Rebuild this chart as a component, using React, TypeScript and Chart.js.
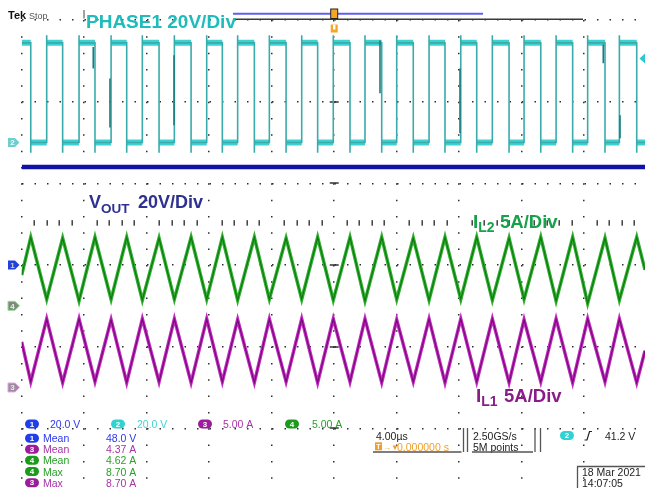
import React, { useEffect, useRef } from "react";
import { Chart, registerables } from "chart.js";

Chart.register(...registerables);

// ---------- screen / scale setup (x in microseconds, y in screen divisions) ----------
const X_MIN_US = -20;
const X_MAX_US = 19.89;
const X_GRID_US = [-20, -16, -12, -8, -4, 0, 4, 8, 12, 16];
const Y_MIN_DIV = -1.535;
const Y_MAX_DIV = 10;
const Y_GRID_DIV = [0, 2, 4, 6, 8, 10];

// channel ground offsets (div) and scale (units / div)
const CH1_OFFSET_DIV = 4; const CH1_PER_DIV = 20; // VOUT
const CH2_OFFSET_DIV = 7; const CH2_PER_DIV = 20; // PHASE1
const CH3_OFFSET_DIV = 1; const CH3_PER_DIV = 5;  // IL1
const CH4_OFFSET_DIV = 3; const CH4_PER_DIV = 5;  // IL2
const TRIGGER_LEVEL_V = 41.2;

// ---------- waveform data ----------
const PHASE_FALL_US = [-19.42, -17.38, -15.31, -13.28, -11.21, -9.16, -7.16, -5.11, -3.08, -1.06, 1.01, 3.04, 5.06, 7.09, 9.12, 11.19, 13.22, 15.26, 17.33, 19.36];
const PHASE_RISE_US = [-18.40, -16.33, -14.28, -12.28, -10.23, -8.16, -6.18, -4.15, -2.08, -0.06, 1.97, 4.00, 6.07, 8.10, 10.12, 12.15, 14.20, 16.22, 18.25];
const PHASE_HIGH_V = 48.8;
const PHASE_LOW_V = 0;
const PHASE_OVERSHOOT_V = 52.5;
const PHASE_UNDERSHOOT_V = -5;

const PHASE_GLITCH_T_US = [-15.42, -14.35, -10.25, 2.93, 8.05, 17.22, 18.29];
const PHASE_GLITCH_TOP_V = [46.8, 31.4, 42.7, 50.0, 36.3, 48.0, 13.3];
const PHASE_GLITCH_BOTTOM_V = [36.3, 7.4, 8.4, 24.1, 4.5, 38.8, 2.1];

const VOUT_T_US = [-20, 19.89];
const VOUT_V = [48.0, 48.0];

const RIPPLE_T_US = [-20, -19.42, -18.40, -17.38, -16.33, -15.31, -14.28, -13.28, -12.28, -11.21, -10.23, -9.16, -8.16, -7.16, -6.18, -5.11, -4.15, -3.08, -2.08, -1.06, -0.06, 1.01, 1.97, 3.04, 4.00, 5.06, 6.07, 7.09, 8.10, 9.12, 10.12, 11.19, 12.15, 13.22, 14.20, 15.26, 16.22, 17.33, 18.25, 19.36, 19.89];
const IL2_A = [3.75, 8.4, 0.8, 8.3, 0.6, 8.4, 0.8, 8.4, 0.7, 8.3, 0.8, 8.4, 0.8, 8.4, 0.7, 8.4, 0.8, 8.3, 0.8, 8.4, 0.7, 8.4, 0.6, 8.4, 0.8, 8.3, 0.7, 8.4, 0.8, 8.4, 0.7, 8.3, 0.8, 8.4, 0.6, 8.4, 0.3, 8.3, 0.7, 8.4, 4.4];
const IL1_A = [5.6, 0.7, 8.4, 0.6, 8.4, 0.7, 8.3, 0.6, 8.4, 0.7, 8.4, 0.6, 8.4, 0.7, 8.3, 0.6, 8.4, 0.7, 8.4, 0.6, 8.4, 0.7, 8.4, 0.6, 8.3, 0.7, 8.4, 0.6, 8.4, 0.7, 8.4, 0.6, 8.3, 0.7, 8.4, 0.6, 8.4, 0.7, 8.4, 0.6, 4.5];

// ---------- readout texts ----------
const CH_SCALE_TEXT = ["20.0 V", "20.0 V", "5.00 A", "5.00 A"];
const MEAS_CH = [1, 3, 4, 4, 3];
const MEAS_NAME = ["Mean", "Mean", "Mean", "Max", "Max"];
const MEAS_VALUE = ["48.0 V", "4.37 A", "4.62 A", "8.70 A", "8.70 A"];
const TIMEBASE_TEXT = "4.00µs";
const TRIG_POS_TEXT = "0.000000 s";
const SAMPLE_RATE_TEXT = "2.50GS/s";
const RECORD_TEXT = "5M points";
const TRIG_LEVEL_TEXT = "41.2 V";
const DATE_TEXT = "18 Mar 2021";
const TIME_TEXT = "14:07:05";

const BADGE_FILL: Record<number, string> = { 1: "#1f3fe8", 2: "#33d2d2", 3: "#9c1c9c", 4: "#1c9a1c" };
const TEXT_FILL: Record<number, string> = { 1: "#2b36f0", 2: "#40d4d4", 3: "#a832a8", 4: "#28a028" };

const FONT = "'Liberation Sans', Arial, sans-serif";

const toDiv = (v: number, off: number, per: number) => off + v / per;

function buildPhase() {
  const edges: { x: number; y: number | null }[] = [];
  const band: { x: number; y: number | null }[] = [];
  const d = (v: number) => toDiv(v, CH2_OFFSET_DIV, CH2_PER_DIV);
  edges.push({ x: X_MIN_US, y: d(PHASE_HIGH_V) });
  let segStart = X_MIN_US;
  for (let i = 0; i < PHASE_FALL_US.length; i++) {
    const tf = PHASE_FALL_US[i];
    edges.push({ x: tf, y: d(PHASE_HIGH_V) });
    edges.push({ x: tf, y: d(PHASE_UNDERSHOOT_V) });
    edges.push({ x: tf, y: d(PHASE_LOW_V) });
    band.push({ x: segStart, y: d(PHASE_HIGH_V) }, { x: tf, y: d(PHASE_HIGH_V) }, { x: tf, y: null });
    const tr = i < PHASE_RISE_US.length ? PHASE_RISE_US[i] : X_MAX_US;
    edges.push({ x: tr, y: d(PHASE_LOW_V) });
    band.push({ x: tf, y: d(PHASE_LOW_V) }, { x: tr, y: d(PHASE_LOW_V) }, { x: tr, y: null });
    if (i < PHASE_RISE_US.length) {
      edges.push({ x: tr, y: d(PHASE_OVERSHOOT_V) });
      edges.push({ x: tr, y: d(PHASE_HIGH_V) });
    }
    segStart = tr;
  }
  const glitch: { x: number; y: number | null }[] = [];
  PHASE_GLITCH_T_US.forEach((t, i) => {
    glitch.push({ x: t, y: d(PHASE_GLITCH_TOP_V[i]) }, { x: t, y: d(PHASE_GLITCH_BOTTOM_V[i]) }, { x: t, y: null });
  });
  return { edges, band, glitch };
}

function pill(ctx: CanvasRenderingContext2D, x: number, cy: number, w: number, h: number, fill: string) {
  const r = h / 2;
  const y = cy - r;
  ctx.beginPath();
  ctx.moveTo(x + r, y);
  ctx.lineTo(x + w - r, y);
  ctx.arc(x + w - r, y + r, r, -Math.PI / 2, Math.PI / 2);
  ctx.lineTo(x + r, y + h);
  ctx.arc(x + r, y + r, r, Math.PI / 2, (3 * Math.PI) / 2);
  ctx.closePath();
  ctx.fillStyle = fill;
  ctx.fill();
}

function badge(ctx: CanvasRenderingContext2D, x: number, cy: number, n: number) {
  pill(ctx, x, cy, 14, 9, BADGE_FILL[n]);
  ctx.fillStyle = "#ffffff";
  ctx.font = `bold 8px ${FONT}`;
  ctx.textAlign = "center";
  ctx.textBaseline = "middle";
  ctx.fillText(String(n), x + 7, cy + 0.5);
  ctx.textAlign = "left";
  ctx.textBaseline = "alphabetic";
}

function marker(ctx: CanvasRenderingContext2D, y: number, fill: string, stroke: string | null, label: string, labelColor: string) {
  ctx.beginPath();
  ctx.moveTo(8, y - 4.5);
  ctx.lineTo(15, y - 4.5);
  ctx.lineTo(19.5, y);
  ctx.lineTo(15, y + 4.5);
  ctx.lineTo(8, y + 4.5);
  ctx.closePath();
  ctx.fillStyle = fill;
  ctx.fill();
  if (stroke) { ctx.strokeStyle = stroke; ctx.lineWidth = 1; ctx.stroke(); }
  ctx.fillStyle = labelColor;
  ctx.font = `bold 8px ${FONT}`;
  ctx.textAlign = "center";
  ctx.textBaseline = "middle";
  ctx.fillText(label, 12.5, y + 0.5);
  ctx.textAlign = "left";
  ctx.textBaseline = "alphabetic";
}

function line(ctx: CanvasRenderingContext2D, x1: number, y1: number, x2: number, y2: number, color: string, w: number) {
  ctx.beginPath();
  ctx.moveTo(x1, y1);
  ctx.lineTo(x2, y2);
  ctx.strokeStyle = color;
  ctx.lineWidth = w;
  ctx.stroke();
}

const overlayPlugin = {
  id: "scopeOverlay",
  beforeDatasetsDraw(chart: any) {
    const ctx: CanvasRenderingContext2D = chart.ctx;
    const xs = chart.scales.x;
    const ys = chart.scales.y;
    ctx.save();
    ctx.fillStyle = "#333333";
    // minor ticks on the centre horizontal line
    const yc = ys.getPixelForValue(5);
    for (let k = 0; k <= 50; k++) {
      if (k % 5 === 0) continue;
      const px = xs.getPixelForValue(X_MIN_US + k * 0.8);
      if (px > chart.width) break;
      ctx.fillRect(Math.round(px) - 0.5, yc - 4, 1.4, 5.5);
    }
    // dashes on the centre vertical line
    const xc = xs.getPixelForValue(0);
    [0, 2, 4, 6, 8].forEach((v) => {
      const py = ys.getPixelForValue(v);
      ctx.fillRect(xc - 4.5, Math.round(py) - 0.75, 9, 1.5);
    });
    ctx.restore();
  },
  afterDraw(chart: any) {
    const ctx: CanvasRenderingContext2D = chart.ctx;
    const xs = chart.scales.x;
    const ys = chart.scales.y;
    ctx.save();

    // top-left status
    ctx.fillStyle = "#111111";
    ctx.font = `bold 11px ${FONT}`;
    ctx.fillText("Tek", 8, 18.5);
    ctx.fillStyle = "#555555";
    ctx.font = `9px ${FONT}`;
    ctx.fillText("Stop", 29, 18.5);
    line(ctx, 84, 10, 84, 18.5, "#444444", 1);

    // record ruler
    line(ctx, 233, 13.7, 483, 13.7, "#5f5ff0", 2);
    line(ctx, 233, 19.3, 583, 19.3, "#3a3a3a", 1.5);

    // trigger position marker
    const xt = xs.getPixelForValue(0);
    ctx.fillStyle = "#f5a623";
    ctx.fillRect(xt - 3.5, 9, 7, 9.5);
    ctx.strokeStyle = "#222222";
    ctx.lineWidth = 1;
    ctx.strokeRect(xt - 3.5, 9, 7, 9.5);
    ctx.fillStyle = "#f5a623";
    ctx.fillRect(xt - 3.5, 24.5, 7, 8);
    ctx.fillStyle = "#ffffff";
    ctx.fillRect(xt - 1.2, 24.5, 2.4, 5);

    // trigger level marker (right edge)
    const yTrig = ys.getPixelForValue(toDiv(TRIGGER_LEVEL_V, CH2_OFFSET_DIV, CH2_PER_DIV));
    ctx.beginPath();
    ctx.moveTo(639.5, yTrig);
    ctx.lineTo(645, yTrig - 5);
    ctx.lineTo(645, yTrig + 5);
    ctx.closePath();
    ctx.fillStyle = "#2ec6d0";
    ctx.fill();

    // channel ground markers
    marker(ctx, ys.getPixelForValue(CH2_OFFSET_DIV), "#6ecece", null, "2", "#e8ffff");
    marker(ctx, ys.getPixelForValue(CH1_OFFSET_DIV), "#2240e0", null, "1", "#d6d6a8");
    marker(ctx, ys.getPixelForValue(CH4_OFFSET_DIV), "#7d8a7d", "#95dc95", "4", "#dff5df");
    marker(ctx, ys.getPixelForValue(CH3_OFFSET_DIV), "#9d8b9d", "#e2a6e2", "3", "#f5e2f5");

    // trace labels
    ctx.font = `bold 19px ${FONT}`;
    ctx.fillStyle = "#1fbcbc";
    ctx.fillText("PHASE1 20V/Div", 86, 27.5);

    ctx.fillStyle = "#2e3192";
    ctx.font = `bold 18px ${FONT}`;
    ctx.fillText("V", 89, 208);
    const vW = ctx.measureText("V").width;
    ctx.font = `bold 13.5px ${FONT}`;
    ctx.fillText("OUT", 89 + vW, 213);
    ctx.font = `bold 18px ${FONT}`;
    ctx.fillText("20V/Div", 138, 208);

    ctx.fillStyle = "#17a14a";
    ctx.font = `bold 19px ${FONT}`;
    ctx.fillText("I", 473, 228.3);
    let iW = ctx.measureText("I").width;
    ctx.font = `bold 14px ${FONT}`;
    ctx.fillText("L2", 473 + iW, 232.3);
    ctx.font = `bold 18.5px ${FONT}`;
    ctx.fillText("5A/Div", 500, 228.3);

    ctx.fillStyle = "#8a1c8a";
    ctx.font = `bold 19px ${FONT}`;
    ctx.fillText("I", 476, 402);
    iW = ctx.measureText("I").width;
    ctx.font = `bold 14px ${FONT}`;
    ctx.fillText("L1", 476 + iW, 406);
    ctx.font = `bold 18.5px ${FONT}`;
    ctx.fillText("5A/Div", 504, 402);

    // channel scale readouts
    const rowX = [[25, 50], [111, 137], [198, 223], [285, 312]];
    ctx.font = `10.5px ${FONT}`;
    CH_SCALE_TEXT.forEach((t, i) => {
      const ch = i + 1;
      badge(ctx, rowX[i][0], 424, ch);
      ctx.font = `10.5px ${FONT}`;
      ctx.fillStyle = TEXT_FILL[ch];
      ctx.fillText(t, rowX[i][1], 428);
    });

    // measurements
    const rowY = [438.3, 449.3, 460.3, 471.5, 482.7];
    MEAS_CH.forEach((ch, i) => {
      badge(ctx, 25, rowY[i], ch);
      ctx.font = `10.5px ${FONT}`;
      ctx.fillStyle = TEXT_FILL[ch];
      ctx.fillText(MEAS_NAME[i], 43, rowY[i] + 4);
      ctx.fillText(MEAS_VALUE[i], 106, rowY[i] + 4);
    });

    // timebase box
    ctx.font = `10.5px ${FONT}`;
    ctx.fillStyle = "#222222";
    ctx.fillText(TIMEBASE_TEXT, 376, 439.5);
    ctx.fillStyle = "#f0a028";
    ctx.fillRect(375, 442.3, 7, 8);
    ctx.fillStyle = "#ffffff";
    ctx.font = `bold 7px ${FONT}`;
    ctx.fillText("T", 376.2, 449.3);
    ctx.fillStyle = "#f0a028";
    ctx.font = `8px ${FONT}`;
    ctx.fillText("→▼", 383, 450);
    ctx.font = `10.5px ${FONT}`;
    ctx.fillText(TRIG_POS_TEXT, 397, 450.5);
    line(ctx, 373, 452, 461.5, 452, "#555555", 1.3);
    line(ctx, 463.5, 428, 463.5, 452, "#555555", 1.3);
    line(ctx, 467.5, 428, 467.5, 452, "#555555", 1.3);

    // acquisition box
    ctx.fillStyle = "#222222";
    ctx.font = `10.5px ${FONT}`;
    ctx.fillText(SAMPLE_RATE_TEXT, 473, 439.5);
    ctx.fillText(RECORD_TEXT, 473, 450.5);
    line(ctx, 472, 452, 533, 452, "#555555", 1.3);
    line(ctx, 535, 428, 535, 452, "#555555", 1.3);
    line(ctx, 540.5, 428, 540.5, 452, "#555555", 1.3);

    // trigger readout
    badge(ctx, 560, 435.5, 2);
    ctx.beginPath();
    ctx.moveTo(584.5, 440);
    ctx.lineTo(587, 440);
    ctx.lineTo(589.5, 431.5);
    ctx.lineTo(592, 431.5);
    ctx.strokeStyle = "#222222";
    ctx.lineWidth = 1.2;
    ctx.stroke();
    ctx.fillStyle = "#222222";
    ctx.font = `10.5px ${FONT}`;
    ctx.fillText(TRIG_LEVEL_TEXT, 605, 439.5);

    // date box
    line(ctx, 577, 466.5, 645, 466.5, "#555555", 1.3);
    line(ctx, 577.5, 466.5, 577.5, 488, "#555555", 1.3);
    ctx.fillStyle = "#222222";
    ctx.fillText(DATE_TEXT, 582, 475.5);
    ctx.fillText(TIME_TEXT, 582, 486.5);

    ctx.restore();
  },
};

export default function App() {
  const canvasRef = useRef<HTMLCanvasElement | null>(null);

  useEffect(() => {
    const canvas = canvasRef.current;
    if (!canvas) return;
    const phase = buildPhase();
    const il2 = RIPPLE_T_US.map((t, i) => ({ x: t, y: toDiv(IL2_A[i], CH4_OFFSET_DIV, CH4_PER_DIV) }));
    const il1 = RIPPLE_T_US.map((t, i) => ({ x: t, y: toDiv(IL1_A[i], CH3_OFFSET_DIV, CH3_PER_DIV) }));
    const vout = VOUT_T_US.map((t, i) => ({ x: t, y: toDiv(VOUT_V[i], CH1_OFFSET_DIV, CH1_PER_DIV) }));

    const base = { pointRadius: 0, tension: 0, fill: false, spanGaps: false, borderJoinStyle: "miter" as const };
    const chart = new Chart(canvas, {
      type: "line",
      data: {
        datasets: [
          { ...base, label: "PHASE1 persistence", data: phase.glitch, borderColor: "#1b7d7d", borderWidth: 1.6 },
          { ...base, label: "PHASE1 edges", data: phase.edges, borderColor: "#3aabab", borderWidth: 1.6 },
          { ...base, label: "PHASE1", data: phase.band, borderColor: "#3dd2d2", borderWidth: 6, borderCapStyle: "butt" },
          { ...base, label: "VOUT", data: vout, borderColor: "#1212a8", borderWidth: 4.5 },
          { ...base, label: "IL2 core", data: il2, borderColor: "#117811", borderWidth: 1.2 },
          { ...base, label: "IL2", data: il2, borderColor: "#2fb02f", borderWidth: 3.4 },
          { ...base, label: "IL1 core", data: il1, borderColor: "#760a76", borderWidth: 1.2 },
          { ...base, label: "IL1", data: il1, borderColor: "#c22ac2", borderWidth: 3.4 },
        ],
      },
      options: {
        animation: false,
        responsive: false,
        devicePixelRatio: 1,
        layout: { padding: { left: 21.7, top: 20, right: 0, bottom: 0 } },
        plugins: { legend: { display: false }, tooltip: { enabled: false }, title: { display: false } },
        scales: {
          x: {
            type: "linear",
            min: X_MIN_US,
            max: X_MAX_US,
            afterBuildTicks: (s: any) => { s.ticks = X_GRID_US.map((v) => ({ value: v })); },
            ticks: { display: false },
            grid: { color: "#2e2e2e", lineWidth: 1.5, drawTicks: false },
            border: { display: false, dash: [1.5, 14.83] },
          },
          y: {
            type: "linear",
            min: Y_MIN_DIV,
            max: Y_MAX_DIV,
            afterBuildTicks: (s: any) => { s.ticks = Y_GRID_DIV.map((v) => ({ value: v })); },
            ticks: { display: false },
            grid: { color: "#2e2e2e", lineWidth: 1.5, drawTicks: false },
            border: { display: false, dash: [1.5, 11] },
          },
        },
      } as any,
      plugins: [overlayPlugin],
    });
    return () => chart.destroy();
  }, []);

  return (
    <div style={{ position: "fixed", left: 0, top: 0, width: 645, height: 491, background: "#ffffff" }}>
      <canvas ref={canvasRef} width={645} height={491} style={{ display: "block", width: 645, height: 491 }} />
    </div>
  );
}
